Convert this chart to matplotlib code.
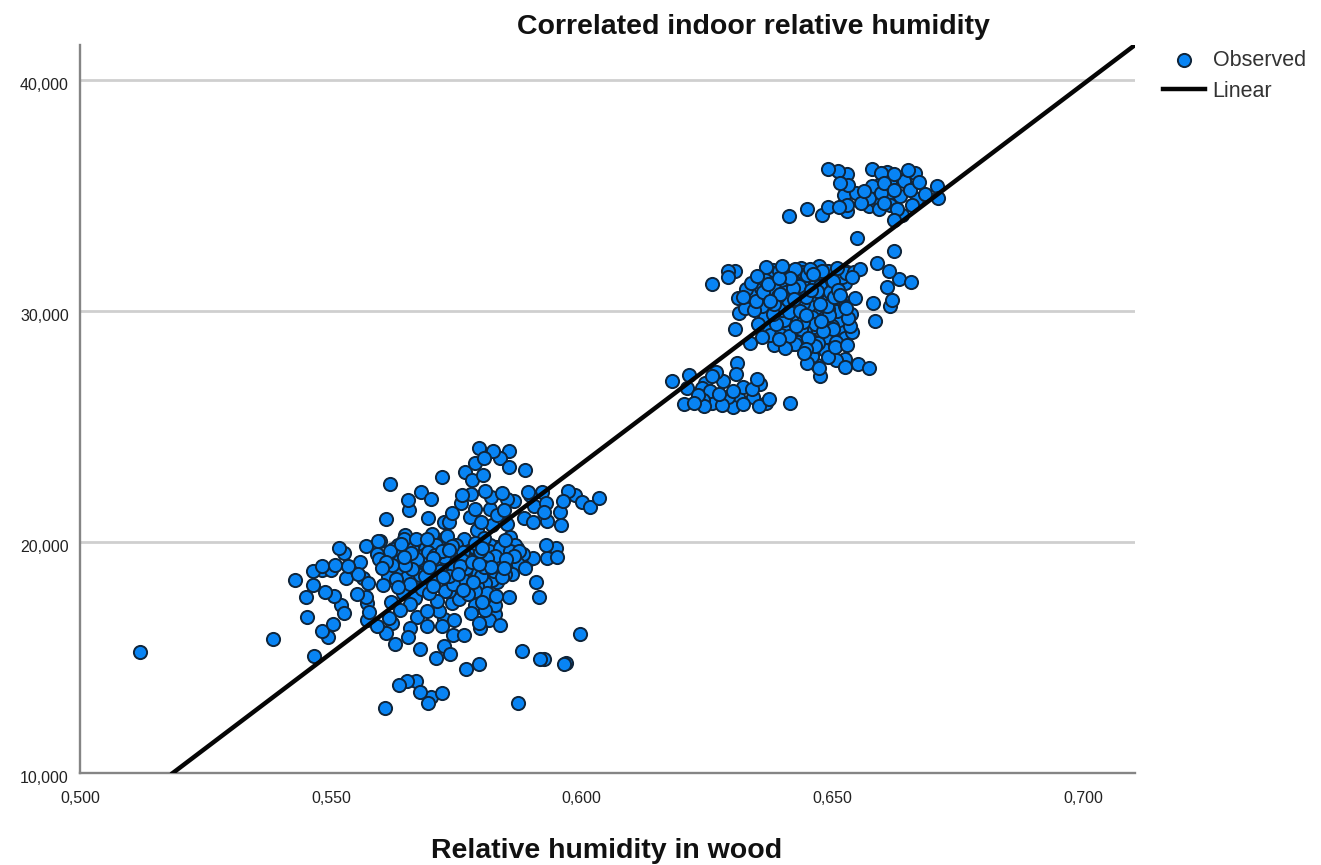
#!/usr/bin/env python3
"""Scatter of indoor relative humidity against relative humidity in wood."""
import matplotlib
matplotlib.use("Agg")
import matplotlib.pyplot as plt
import matplotlib.transforms as mtrans
import numpy as np

# (humidity in wood, indoor humidity)
low_edge = [
    (.5795, 24.05), (.5823, 23.94), (.5855, 23.94), (.5806, 23.62), (.5838, 23.62), (.5787, 23.41),
    (.5855, 23.22), (.5888, 23.12), (.5768, 23.03), (.5803, 22.90), (.5781, 22.66), (.5722, 22.80),
    (.5617, 22.50), (.5680, 22.15), (.5654, 21.82), (.5700, 21.85), (.5656, 21.39), (.5693, 21.05),
    (.5609, 20.98), (.5741, 21.24), (.5735, 20.88), (.5725, 20.84), (.5761, 22.04), (.5779, 22.08),
    (.5760, 21.68), (.5808, 22.21), (.5819, 21.96), (.5841, 22.11), (.5851, 21.86), (.5865, 21.78),
    (.5894, 22.14), (.5898, 22.04), (.5921, 22.18), (.5929, 21.68), (.5972, 22.21), (.5986, 22.04),
    (.5962, 21.78), (.6001, 21.72), (.6034, 21.92), (.6017, 21.49), (.5956, 21.31), (.5924, 21.31),
    (.5904, 21.56), (.5886, 21.03), (.5903, 20.87), (.5931, 20.90), (.5958, 20.71), (.5788, 21.43),
    (.5817, 21.42), (.5846, 21.36), (.5831, 21.17), (.5777, 21.07), (.5800, 20.87), (.5822, 20.74),
    (.5851, 20.77), (.5791, 20.52), (.5858, 20.20), (.5929, 19.87), (.5949, 19.73), (.5931, 19.29),
    (.5950, 19.34), (.5902, 19.32), (.5888, 18.89), (.5868, 19.87), (.5909, 18.28), (.5915, 17.63),
    (.5855, 17.61), (.5996, 16.00), (.5882, 15.30), (.5916, 14.92), (.5924, 14.95), (.5964, 14.72),
    (.5968, 14.75), (.5873, 13.02), (.5796, 14.72), (.5769, 14.52), (.5738, 15.14), (.5710, 14.97),
    (.5678, 15.35), (.5725, 15.51), (.5628, 15.57), (.5653, 15.87), (.5765, 15.98), (.5743, 15.95),
    (.5635, 13.81), (.5652, 13.98), (.5670, 13.98), (.5678, 13.52), (.5700, 13.31), (.5722, 13.45),
    (.5694, 13.02), (.5607, 12.82), (.5429, 18.36), (.5464, 18.14), (.5450, 17.63), (.5489, 17.82),
    (.5507, 17.68), (.5521, 17.27), (.5527, 16.91), (.5452, 16.73), (.5504, 16.44), (.5483, 16.15),
    (.5494, 15.87), (.5467, 15.07), (.5464, 18.76), (.5482, 18.79), (.5482, 18.96), (.5500, 18.79),
    (.5509, 19.00), (.5517, 19.73), (.5527, 19.51), (.5534, 18.96), (.5531, 18.43), (.5559, 19.15),
    (.5554, 18.62), (.5571, 19.84), (.5595, 20.04), (.5575, 18.21), (.5565, 18.43), (.5553, 17.75),
    (.5571, 17.63), (.5573, 17.35), (.5577, 16.96), (.5573, 16.62), (.5592, 16.34), (.5610, 16.05),
    (.5622, 16.48), (.5615, 16.70), (.5620, 17.42), (.5643, 17.78), (.5638, 17.06), (.5658, 17.32),
    (.5672, 16.73), (.5658, 16.26), (.5692, 16.34), (.5692, 17.01), (.5715, 17.01), (.5725, 16.65),
    (.5745, 16.60), (.5722, 16.37), (.5741, 17.35), (.5696, 17.78), (.5735, 17.88), (.5763, 17.92),
    (.5788, 17.88), (.5787, 17.27), (.5780, 16.94), (.5808, 17.06), (.5828, 16.87), (.5830, 17.68),
    (.5828, 17.27), (.5796, 16.48), (.5797, 16.26), (.5815, 16.62), (.5838, 16.41), (.5811, 17.78),
    (.5831, 18.28), (.5848, 18.62), (.5808, 18.21), (.5120, 15.25), (.5385, 15.80),
]
low_core = [
    (.5648, 20.31), (.5669, 20.12), (.5702, 20.34), (.5716, 20.08), (.5731, 20.27), (.5598, 20.05),
    (.5633, 19.88), (.5646, 20.12), (.5664, 19.91), (.5692, 20.14), (.5709, 19.86), (.5727, 20.17),
    (.5741, 19.84), (.5766, 20.11), (.5781, 19.87), (.5805, 20.16), (.5818, 19.88), (.5847, 20.09),
    (.5864, 19.83), (.5624, 19.71), (.5639, 19.93), (.5655, 19.66), (.5681, 19.78), (.5694, 19.58),
    (.5713, 19.92), (.5736, 19.63), (.5749, 19.88), (.5773, 19.68), (.5788, 19.95), (.5815, 19.62),
    (.5829, 19.79), (.5857, 19.61), (.5871, 19.72), (.5592, 19.48), (.5618, 19.61), (.5633, 19.42),
    (.5659, 19.53), (.5671, 19.36), (.5697, 19.71), (.5708, 19.44), (.5733, 19.51), (.5745, 19.31),
    (.5764, 19.55), (.5783, 19.39), (.5802, 19.72), (.5827, 19.41), (.5841, 19.52), (.5866, 19.38),
    (.5884, 19.49), (.5597, 19.27), (.5609, 19.12), (.5635, 19.19), (.5647, 18.98), (.5672, 19.24),
    (.5684, 19.03), (.5703, 19.29), (.5721, 19.07), (.5739, 19.18), (.5758, 18.96), (.5777, 19.22),
    (.5795, 19.05), (.5812, 19.31), (.5836, 19.09), (.5849, 19.25), (.5873, 19.04), (.5891, 19.18),
    (.5601, 18.87), (.5622, 18.99), (.5638, 18.72), (.5661, 18.83), (.5679, 18.66), (.5695, 18.92),
    (.5717, 18.74), (.5729, 18.88), (.5753, 18.61), (.5769, 18.85), (.5791, 18.68), (.5806, 18.93),
    (.5825, 18.72), (.5846, 18.86), (.5862, 18.63), (.5613, 18.54), (.5629, 18.38), (.5652, 18.47),
    (.5668, 18.24), (.5688, 18.52), (.5706, 18.33), (.5724, 18.46), (.5743, 18.17), (.5761, 18.42),
    (.5784, 18.27), (.5799, 18.51), (.5821, 18.36), (.5841, 18.47), (.5603, 18.13), (.5634, 18.04),
    (.5657, 18.16), (.5681, 17.96), (.5703, 18.11), (.5728, 17.86), (.5752, 18.03), (.5773, 17.74),
    (.5792, 18.08), (.5668, 17.58), (.5711, 17.46), (.5756, 17.51), (.5801, 17.42), (.5685, 19.42),
    (.5715, 19.16), (.5722, 19.62), (.5744, 19.02), (.5755, 19.42), (.5762, 19.21), (.5772, 19.56),
    (.5781, 19.11), (.5786, 19.78), (.5793, 19.34), (.5798, 19.61), (.5752, 19.71), (.5768, 18.74),
    (.5735, 18.52), (.5678, 18.58), (.5646, 19.34), (.5662, 19.72), (.5628, 19.32), (.5819, 18.92),
    (.5838, 19.72), (.5856, 18.97), (.5875, 19.61), (.5877, 19.27), (.5812, 19.08), (.5726, 19.34),
]
mid_edge = [
    (.6181, 26.97), (.6213, 27.20), (.6268, 27.37), (.6310, 27.76), (.6308, 27.26), (.6281, 26.94),
    (.6246, 26.87), (.6259, 27.19), (.6356, 26.84), (.6349, 27.04), (.6322, 26.72), (.6204, 25.96),
    (.6223, 26.03), (.6244, 25.86), (.6260, 26.03), (.6279, 25.93), (.6301, 25.83), (.6322, 25.96),
    (.6353, 25.90), (.6367, 26.00), (.6374, 26.19), (.6415, 26.00), (.6209, 26.65), (.6232, 26.36),
    (.6256, 26.54), (.6274, 26.41), (.6292, 26.29), (.6312, 26.29), (.6339, 26.61), (.6342, 26.29),
    (.6239, 26.65), (.6302, 26.51), (.6242, 26.15),
    (.6259, 31.15), (.6292, 31.70), (.6306, 31.70), (.6291, 31.46), (.6306, 29.21), (.6314, 29.90),
    (.6312, 30.55), (.6326, 30.11), (.6336, 28.60), (.6359, 28.86), (.6475, 27.16), (.6474, 27.52),
    (.6525, 27.55), (.6550, 27.71), (.6572, 27.52), (.6507, 27.85), (.6524, 27.91), (.6492, 27.99),
    (.6459, 28.05), (.6444, 28.17), (.6449, 27.76), (.6469, 27.66), (.6528, 28.50), (.6538, 29.10),
    (.6536, 29.87), (.6545, 30.55), (.6525, 30.22), (.6515, 30.69), (.6495, 30.81), (.6525, 31.20),
    (.6555, 31.82), (.6542, 31.67), (.6528, 31.66), (.6588, 32.06), (.6612, 31.70), (.6633, 31.37),
    (.6656, 31.23), (.6608, 31.02), (.6618, 30.45), (.6615, 30.19), (.6580, 30.33), (.6585, 29.54),
    (.6622, 32.57), (.6549, 33.16),
]
mid_core = [
    (.6368, 31.88), (.6381, 31.76), (.6399, 31.93), (.6418, 31.71), (.6437, 31.87), (.6455, 31.79),
    (.6473, 31.94), (.6491, 31.72), (.6508, 31.85), (.6527, 31.62), (.6349, 31.52), (.6365, 31.34),
    (.6377, 31.61), (.6394, 31.42), (.6412, 31.58), (.6429, 31.29), (.6449, 31.55), (.6466, 31.38),
    (.6483, 31.49), (.6502, 31.28), (.6518, 31.44), (.6538, 31.47), (.6338, 31.21), (.6357, 30.98),
    (.6372, 31.14), (.6386, 30.89), (.6403, 31.22), (.6421, 30.97), (.6439, 31.17), (.6458, 30.92),
    (.6475, 31.08), (.6492, 31.16), (.6510, 30.88), (.6328, 30.93), (.6341, 30.72), (.6361, 30.81),
    (.6378, 30.59), (.6396, 30.74), (.6412, 30.46), (.6431, 30.78), (.6448, 30.58), (.6467, 30.69),
    (.6484, 30.42), (.6503, 30.61), (.6519, 30.48), (.6322, 30.58), (.6347, 30.41), (.6359, 30.22),
    (.6383, 30.31), (.6399, 30.05), (.6418, 30.19), (.6436, 29.97), (.6453, 30.27), (.6472, 30.08),
    (.6489, 30.21), (.6508, 29.98), (.6527, 30.12), (.6343, 30.02), (.6366, 29.76), (.6381, 29.88),
    (.6404, 29.62), (.6422, 29.79), (.6441, 29.53), (.6459, 29.74), (.6477, 29.56), (.6494, 29.81),
    (.6513, 29.59), (.6531, 29.68), (.6352, 29.41), (.6371, 29.27), (.6388, 29.44), (.6409, 29.18),
    (.6427, 29.35), (.6446, 29.07), (.6463, 29.29), (.6482, 29.11), (.6499, 29.36), (.6517, 29.15),
    (.6534, 29.32), (.6376, 28.97), (.6393, 28.76), (.6414, 28.92), (.6432, 28.67), (.6452, 28.83),
    (.6471, 28.61), (.6488, 28.88), (.6507, 28.66), (.6524, 28.84), (.6384, 28.52), (.6406, 28.41),
    (.6426, 28.55), (.6447, 28.36), (.6465, 28.48), (.6486, 28.31), (.6505, 28.43), (.6393, 31.72),
    (.6407, 31.63), (.6425, 31.82), (.6441, 31.66), (.6462, 31.61), (.6479, 31.73), (.6398, 31.31),
    (.6416, 31.41), (.6434, 31.06), (.6452, 31.24), (.6469, 30.86), (.6486, 30.97), (.6375, 30.44),
    (.6391, 30.62), (.6408, 30.83), (.6424, 30.52), (.6441, 30.34), (.6458, 30.47), (.6475, 30.31),
    (.6491, 30.06), (.6394, 29.91), (.6413, 29.96), (.6431, 29.68), (.6448, 29.83), (.6466, 29.42),
    (.6483, 29.67), (.6501, 29.21), (.6397, 28.94), (.6419, 28.56), (.6437, 29.21), (.6458, 28.72),
]
top_cluster = [
    (.6491, 36.15), (.6511, 36.03), (.6529, 35.92), (.6514, 35.53), (.6531, 35.45), (.6522, 35.02),
    (.6529, 34.59), (.6529, 34.30), (.6512, 34.49), (.6492, 34.47), (.6479, 34.16), (.6449, 34.40),
    (.6414, 34.08), (.6578, 36.15), (.6596, 35.96), (.6609, 35.99), (.6622, 35.92),
    (.6651, 36.08), (.6665, 35.96), (.6672, 35.57), (.6642, 35.60), (.6709, 35.38), (.6711, 34.88),
    (.6685, 35.05), (.6669, 34.83), (.6655, 35.24), (.6634, 34.98), (.6659, 34.59), (.6629, 34.40),
    (.6639, 34.16), (.6622, 33.91), (.6592, 34.40), (.6572, 34.52), (.6556, 34.66), (.6546, 35.09),
    (.6562, 35.17), (.6579, 35.38), (.6592, 35.45), (.6602, 35.53), (.6615, 35.53), (.6582, 35.09),
    (.6596, 35.09), (.6609, 35.02), (.6622, 35.24), (.6572, 34.88), (.6586, 34.73), (.6602, 34.66),
    (.6615, 34.59), (.6562, 34.81),
]
fit_x = [0.5185, 0.7103]
fit_y = [10.0, 41.5]

x_ticks = [0.50, 0.55, 0.60, 0.65, 0.70]
y_ticks = [10, 20, 30, 40]

W, H = 1321, 865
plt.rcParams["font.family"] = ["Liberation Sans", "DejaVu Sans"]

fig = plt.figure(figsize=(W / 100, H / 100), dpi=100)
ax = fig.add_axes([80 / W, 1 - 773 / H, (1135 - 80) / W, (773 - 45) / H])

observed = np.array(low_edge + low_core + mid_edge + mid_core + top_cluster)
# stir the drawing order so the overlaps don't stack up row by row
order = np.argsort(np.arange(len(observed)) * 61 % 97, kind="stable")
observed = observed[order]
ax.scatter(observed[:, 0], observed[:, 1], s=90, c="#0884f4", edgecolors="#10253a",
           linewidths=1.4, zorder=3, label="Observed", clip_on=False)
ax.plot(fit_x, fit_y, color="#050505", lw=3.2, zorder=4, label="Linear")

ax.set_xlim(0.5, 0.7103)
ax.set_ylim(10, 41.5)
ax.set_xticks(x_ticks)
ax.set_xticklabels([f"{v:.3f}".replace(".", ",") for v in x_ticks])
ax.set_yticks(y_ticks)
ax.set_yticklabels([f"{v:.3f}".replace(".", ",") for v in y_ticks])
ax.tick_params(length=0, labelsize=11.5, colors="#222222")
ax.tick_params(axis="x", pad=13)
ax.tick_params(axis="y", pad=8)
# the y labels sit a little under their grid lines
nudge = mtrans.ScaledTranslation(0, -3 / 72, fig.dpi_scale_trans)
for label in ax.get_yticklabels():
    label.set_transform(label.get_transform() + nudge)
ax.grid(axis="y", color="#cfcfcf", lw=2)
ax.set_axisbelow(True)
for side in ("top", "right"):
    ax.spines[side].set_visible(False)
for side in ("left", "bottom"):
    ax.spines[side].set_color("#858585")
    ax.spines[side].set_linewidth(1.7)

fig.text(753 / W, 1 - 27 / H, "Correlated indoor relative humidity", ha="center", va="center",
         fontsize=20.5, fontweight="bold", color="#111111")
fig.text(607 / W, 1 - 851 / H, "Relative humidity in wood", ha="center", va="center",
         fontsize=20.5, fontweight="bold", color="#111111")

ax.legend(loc="upper left", bbox_to_anchor=(1163 / W, 1 - 50 / H), bbox_transform=fig.transFigure,
          frameon=False, fontsize=15.5, handlelength=1.95, handletextpad=0.35, labelspacing=0.45,
          borderpad=0, borderaxespad=0, labelcolor="#333333")

fig.savefig("out.png", dpi=100)
